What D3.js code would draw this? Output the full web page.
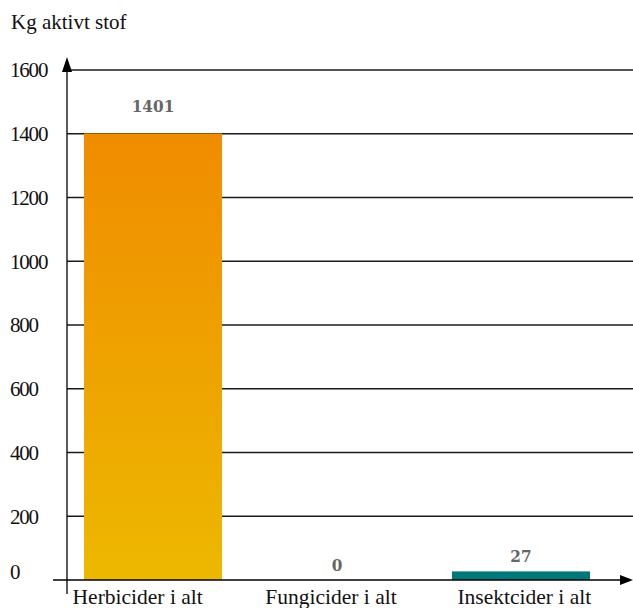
<!DOCTYPE html>
<html><head><meta charset="utf-8">
<script src="https://cdn.jsdelivr.net/npm/d3@7/dist/d3.min.js"></script>
<style>body{margin:0;background:#fff}svg{display:block}</style>
</head><body>
<script>
const categories = ["Herbicider i alt", "Fungicider i alt", "Insektcider i alt"];
const values = [1401, 0, 27];
const yTicks = [0, 200, 400, 600, 800, 1000, 1200, 1400, 1600];
const yTitle = "Kg aktivt stof";

const W = 633, H = 608;
const svg = d3.select("body").append("svg").attr("width", W).attr("height", H);
const defs = svg.append("defs");
const g1 = defs.append("linearGradient").attr("id", "herb").attr("x1", 0).attr("y1", 0).attr("x2", 0).attr("y2", 1);
g1.append("stop").attr("offset", "0%").attr("stop-color", "#F08C00");
g1.append("stop").attr("offset", "100%").attr("stop-color", "#EDB800");

const x = d3.scaleBand().domain(categories).range([61, 613]).paddingInner(0.25).paddingOuter(0.125);
const xLab = d3.scaleBand().domain(categories).range([41, 621]);
const y = d3.scaleLinear().domain([0, 1600]).range([580, 70]);
const axisX = 67;
const serif = "'Liberation Serif', 'Times New Roman', serif";

// gridlines
svg.append("g").selectAll("line").data(yTicks.filter(d => d > 0)).join("line")
  .attr("x1", axisX).attr("x2", W).attr("y1", d => y(d)).attr("y2", d => y(d))
  .attr("stroke", "#1a1a1a").attr("stroke-width", 1.3);

// y tick labels
svg.append("g").selectAll("text").data(yTicks).join("text")
  .attr("x", 10).attr("y", d => y(d) - (d === 0 ? 8 : 0)).attr("dy", "0.35em")
  .attr("font-family", serif).attr("font-size", 21).attr("letter-spacing", -1.2).attr("fill", "#111")
  .text(d => d);

// title
svg.append("text").attr("x", 11).attr("y", 29).attr("font-family", serif)
  .attr("font-size", 21).attr("fill", "#111").text(yTitle);

// bars
const colors = ["url(#herb)", "#EDB800", "#00787A"];
svg.append("g").selectAll("rect").data(values).join("rect")
  .attr("x", (d, i) => x(categories[i])).attr("width", x.bandwidth())
  .attr("y", d => y(d)).attr("height", d => y(0) - y(d))
  .attr("fill", (d, i) => colors[i]);

// value labels
svg.append("g").selectAll("text").data(values).join("text")
  .attr("x", (d, i) => x(categories[i]) + x.bandwidth() / 2)
  .attr("y", d => y(d) - (d > 500 ? 21 : 9))
  .attr("text-anchor", "middle").attr("font-family", "'DejaVu Serif Condensed', 'DejaVu Serif', serif")
  .attr("font-weight", "bold").attr("font-size", 17).attr("fill", "#666").text(d => d);

// axes
svg.append("line").attr("x1", axisX).attr("x2", axisX).attr("y1", 594).attr("y2", 70)
  .attr("stroke", "#000").attr("stroke-width", 1.3);
svg.append("path").attr("d", `M${axisX},57 L${axisX - 5},72 L${axisX + 5},72 Z`).attr("fill", "#000");
svg.append("line").attr("x1", 53).attr("x2", 622).attr("y1", y(0)).attr("y2", y(0))
  .attr("stroke", "#000").attr("stroke-width", 1.3);
svg.append("path").attr("d", `M633,${y(0)} L620,${y(0) - 5} L620,${y(0) + 5} Z`).attr("fill", "#000");

// x labels
svg.append("g").selectAll("text").data(categories).join("text")
  .attr("x", d => xLab(d) + xLab.bandwidth() / 2).attr("y", 604)
  .attr("text-anchor", "middle").attr("font-family", serif)
  .attr("font-size", 21.5).attr("fill", "#111").text(d => d);
</script>
</body></html>
